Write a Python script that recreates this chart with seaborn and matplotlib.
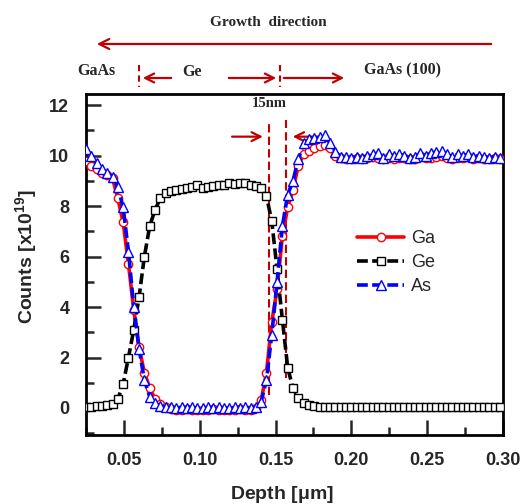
import matplotlib
matplotlib.use("Agg")
import matplotlib.pyplot as plt
import pandas as pd
import seaborn as sns
from matplotlib.lines import Line2D
from matplotlib.ticker import MultipleLocator, FormatStrFormatter

# ---------------- data ----------------
depth = [0.0250, 0.0285, 0.0320, 0.0355, 0.0390, 0.0425, 0.0460, 0.0495, 0.0530, 0.0565,
         0.0600, 0.0635, 0.0670, 0.0705, 0.0740, 0.0775, 0.0810, 0.0845, 0.0880, 0.0915,
         0.0950, 0.0985, 0.1020, 0.1055, 0.1090, 0.1125, 0.1160, 0.1195, 0.1230, 0.1265,
         0.1300, 0.1335, 0.1370, 0.1405, 0.1440, 0.1475, 0.1510, 0.1545, 0.1580, 0.1615,
         0.1650, 0.1685, 0.1720, 0.1755, 0.1790, 0.1825, 0.1860, 0.1895, 0.1930, 0.1965,
         0.2000, 0.2035, 0.2070, 0.2105, 0.2140, 0.2175, 0.2210, 0.2245, 0.2280, 0.2315,
         0.2350, 0.2385, 0.2420, 0.2455, 0.2490, 0.2525, 0.2560, 0.2595, 0.2630, 0.2665,
         0.2700, 0.2735, 0.2770, 0.2805, 0.2840, 0.2875, 0.2910, 0.2945, 0.2980]

ga = [9.80, 9.60, 9.45, 9.32, 9.25, 9.10, 8.30, 7.35, 5.70, 3.90, 2.40, 1.40, 0.80, 0.35, 0.15, 0.05,
      -0.04, -0.06, -0.08, -0.05, -0.07, -0.09, -0.06, -0.08, -0.05, -0.07, -0.09, -0.06, -0.08, -0.05,
      -0.07, -0.06, -0.02,
      0.30, 1.40, 3.40, 4.70, 6.80, 7.95, 8.65, 9.60, 10.05, 10.18, 10.30, 10.38, 10.42, 10.30, 10.00, 9.90,
      9.88, 9.85, 9.90, 9.85, 9.90, 9.95, 9.92, 9.85, 9.90, 9.88, 9.92, 9.90, 9.85, 9.88, 9.95,
      9.90, 9.92, 9.95, 10.00, 9.90, 9.88, 9.92, 9.90, 9.95, 9.88, 9.90, 9.88, 9.85, 9.90, 9.85]

ge = [0.05, 0.05, 0.06, 0.08, 0.10, 0.14, 0.35, 0.95, 2.00, 3.10, 4.40, 6.00, 7.20, 7.85, 8.30, 8.50,
      8.60, 8.62, 8.68, 8.72, 8.75, 8.85, 8.72, 8.75, 8.80, 8.85, 8.85, 8.90, 8.88, 8.92, 8.90, 8.85, 8.80,
      8.72, 8.40, 7.40, 5.50, 3.50, 1.60, 0.78, 0.40, 0.20, 0.12, 0.08, 0.05, 0.04, 0.04, 0.03, 0.03,
      0.03, 0.03, 0.02, 0.03, 0.03, 0.02, 0.03, 0.02, 0.03, 0.03, 0.02, 0.03, 0.03, 0.02, 0.03,
      0.02, 0.03, 0.03, 0.02, 0.03, 0.03, 0.02, 0.03, 0.02, 0.03, 0.03, 0.02, 0.03, 0.03, 0.02]

as_ = [10.25, 10.00, 9.70, 9.48, 9.30, 9.15, 8.75, 7.95, 6.20, 4.00, 2.35, 1.10, 0.45, 0.18, 0.08, 0.03,
       0.02, 0.01, 0.02, 0.01, 0.02, 0.00, 0.01, 0.02, 0.01, 0.02, 0.01, 0.00, 0.02, 0.01, 0.02, 0.01, 0.03,
       0.25, 1.10, 2.90, 5.00, 7.20, 8.45, 9.00, 9.85, 10.50, 10.65, 10.70, 10.72, 10.80, 10.50, 10.15, 9.95,
       9.95, 9.90, 9.95, 9.90, 10.00, 10.05, 10.10, 9.90, 10.05, 10.00, 10.05, 10.00, 9.90, 9.95, 10.10,
       10.00, 10.10, 10.15, 10.20, 10.05, 9.95, 10.05, 10.00, 10.05, 9.95, 10.00, 9.95, 9.90, 9.95, 9.90]

species = ["Ga", "Ge", "As"]
interface_left = 0.1456
interface_right = 0.1570

# ---------------- style ----------------
sns.set_style("ticks")
plt.rcParams['font.family'] = ['Liberation Sans', 'DejaVu Sans']
plt.rcParams['mathtext.fontset'] = 'custom'
plt.rcParams['mathtext.rm'] = 'Liberation Sans'
plt.rcParams['mathtext.bf'] = 'Liberation Sans:bold'

DARKRED = '#C00000'
W, H = 525, 504

fig = plt.figure(figsize=(5.25, 5.04), dpi=100)
ax = fig.add_axes([86 / W, 1 - 435 / H, (503 - 86) / W, (435 - 94) / H])

df = pd.DataFrame({"depth": depth, "Ga": ga, "Ge": ge, "As": as_})

sns.lineplot(data=df, x="depth", y="Ga", ax=ax, sort=False, estimator=None,
             color='#FF0000', linewidth=2.6, linestyle='-',
             marker='o', markersize=6, markerfacecolor='white',
             markeredgecolor='#FF0000', markeredgewidth=1.0, label="Ga", zorder=3)
sns.lineplot(data=df, x="depth", y="Ge", ax=ax, sort=False, estimator=None,
             color='black', linewidth=2.6, linestyle=(0, (3, 1.2)),
             marker='s', markersize=5.5, markerfacecolor='white',
             markeredgecolor='black', markeredgewidth=1.0, label="Ge", zorder=4)
sns.lineplot(data=df, x="depth", y="As", ax=ax, sort=False, estimator=None,
             color='#0000FF', linewidth=2.6, linestyle=(0, (3, 1.2)),
             marker='^', markersize=7, markerfacecolor='white',
             markeredgecolor='#0000FF', markeredgewidth=1.0, label="As", zorder=5)

ax.set_xlim(0.025, 0.30)
ax.set_ylim(-1.07, 12.44)
ax.xaxis.set_major_locator(MultipleLocator(0.05))
ax.xaxis.set_minor_locator(MultipleLocator(0.025))
ax.yaxis.set_major_locator(MultipleLocator(2))
ax.yaxis.set_minor_locator(MultipleLocator(1))
ax.xaxis.set_major_formatter(FormatStrFormatter('%.2f'))
ax.yaxis.set_major_formatter(FormatStrFormatter('%d'))
ax.tick_params(which='major', direction='in', length=11, width=1.8,
               top=False, right=False, labelsize=13)
ax.tick_params(which='minor', direction='in', length=6, width=1.8,
               top=False, right=False)
ax.tick_params(axis='x', which='major', pad=12)
ax.tick_params(axis='y', which='major', pad=12)
for lab in ax.get_xticklabels() + ax.get_yticklabels():
    lab.set_fontweight('bold')
for sp in ax.spines.values():
    sp.set_linewidth(2.0)
    sp.set_color('black')
    sp.set_visible(True)

ax.set_xlabel(r'Depth [$\mathbf{\mu}$m]', fontsize=14, fontweight='bold')
ax.set_ylabel(r'Counts [x10$^{\mathbf{19}}$]', fontsize=14, fontweight='bold')
ax.xaxis.set_label_coords(0.469, -0.145)
ax.yaxis.set_label_coords(-0.11, 0.524)

# legend
handles, labels = ax.get_legend_handles_labels()
ax.legend(handles, labels, loc='upper left', bbox_to_anchor=(0.633, 0.622),
          borderaxespad=0, frameon=False, fontsize=13, handlelength=2.6,
          handletextpad=0.4, labelspacing=0.38, numpoints=1)

# interface guides inside the axes
ax.vlines([interface_left], 0.5, 11.4, colors=DARKRED, linestyles=(0, (4, 2)), linewidth=1.5, zorder=2)
ax.vlines([interface_right], 1.2, 11.4, colors=DARKRED, linestyles=(0, (4, 2)), linewidth=1.5, zorder=2)
ax.annotate('', xy=(0.1435, 10.75), xytext=(0.1195, 10.75),
            arrowprops=dict(arrowstyle='->', color=DARKRED, lw=1.6, mutation_scale=16), zorder=2)
ax.annotate('', xy=(0.1595, 10.75), xytext=(0.1855, 10.75),
            arrowprops=dict(arrowstyle='->', color=DARKRED, lw=1.6, mutation_scale=16), zorder=2)


# ---------------- annotations above the axes ----------------
def fp(x, y):
    return (x / W, 1 - y / H)


serif = ['Liberation Serif', 'DejaVu Serif']
fig.text(*fp(268, 22), 'Growth  direction', family=serif, fontweight='bold',
         fontsize=11, ha='center', va='center')
ax.annotate('', xy=fp(94, 44), xytext=fp(494, 44), xycoords='figure fraction',
            textcoords='figure fraction', annotation_clip=False,
            arrowprops=dict(arrowstyle='->', color=DARKRED, lw=1.6, mutation_scale=18))

fig.text(*fp(96, 71), 'GaAs', family=serif, fontweight='bold', fontsize=11.5, ha='center', va='center')
fig.text(*fp(192, 72), 'Ge', family=serif, fontweight='bold', fontsize=11.5, ha='center', va='center')
fig.text(*fp(402, 70), 'GaAs (100)', family=serif, fontweight='bold', fontsize=11.5, ha='center', va='center')
fig.text(*fp(269, 104), '15nm', family=serif, fontweight='bold', fontsize=10.5, ha='center', va='center')

for xm in (138.5, 279.5):
    fig.add_artist(Line2D([xm / W, xm / W], [1 - 65 / H, 1 - 87 / H], transform=fig.transFigure,
                          color=DARKRED, linestyle=(0, (3, 2)), linewidth=1.5))

for (x0, x1) in ((174, 140), (226, 279), (281, 347)):
    ax.annotate('', xy=fp(x1, 78), xytext=fp(x0, 78), xycoords='figure fraction',
                textcoords='figure fraction', annotation_clip=False,
                arrowprops=dict(arrowstyle='->', color=DARKRED, lw=1.6, mutation_scale=16))

fig.savefig('out.png', dpi=100)
